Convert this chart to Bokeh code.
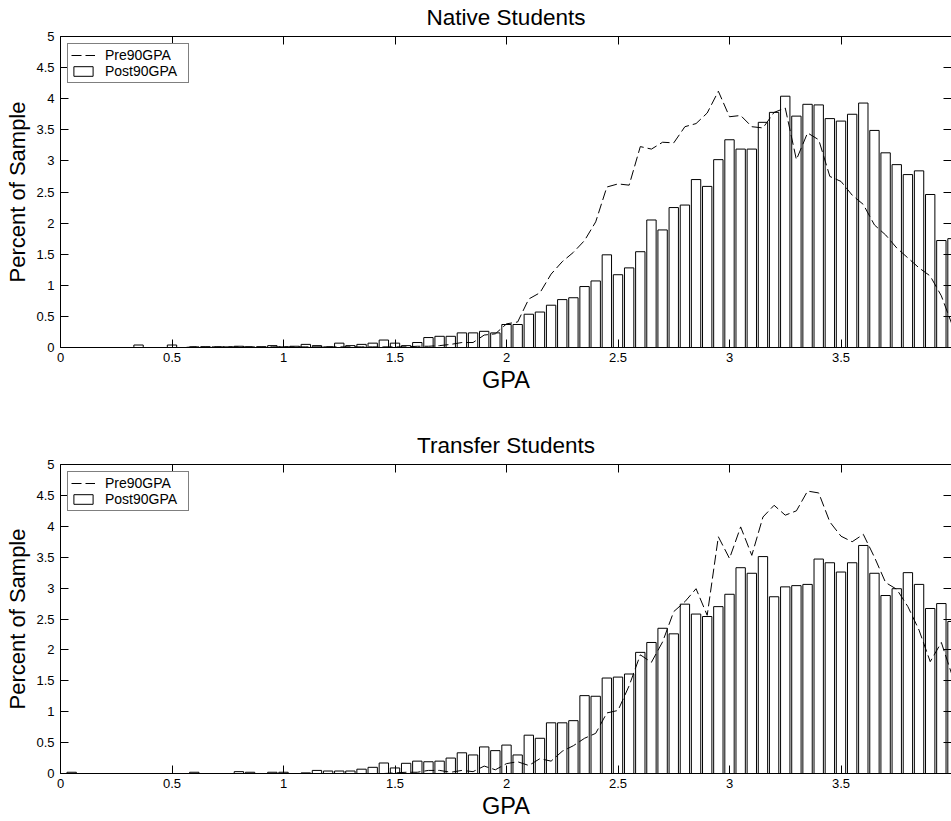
from bokeh.plotting import figure
from bokeh.models import (ColumnDataSource, LinearAxis, FixedTicker, Range1d,
                          Legend, LegendItem, CustomLabelingPolicy)
from bokeh.layouts import column
from bokeh.embed import file_html
from bokeh.resources import INLINE

# GPA bin centres
gpa = [0.00, 0.05, 0.10, 0.15, 0.20, 0.25, 0.30, 0.35, 0.40, 0.45,
       0.50, 0.55, 0.60, 0.65, 0.70, 0.75, 0.80, 0.85, 0.90, 0.95,
       1.00, 1.05, 1.10, 1.15, 1.20, 1.25, 1.30, 1.35, 1.40, 1.45,
       1.50, 1.55, 1.60, 1.65, 1.70, 1.75, 1.80, 1.85, 1.90, 1.95,
       2.00, 2.05, 2.10, 2.15, 2.20, 2.25, 2.30, 2.35, 2.40, 2.45,
       2.50, 2.55, 2.60, 2.65, 2.70, 2.75, 2.80, 2.85, 2.90, 2.95,
       3.00, 3.05, 3.10, 3.15, 3.20, 3.25, 3.30, 3.35, 3.40, 3.45,
       3.50, 3.55, 3.60, 3.65, 3.70, 3.75, 3.80, 3.85, 3.90, 3.95,
       4.00]

native_post = [0, 0, 0, 0, 0, 0, 0, 0.04, 0, 0,
               0.04, 0, 0.01, 0.01, 0.01, 0.01, 0.02, 0.01, 0.01, 0.03,
               0.01, 0.02, 0.05, 0.03, 0.01, 0.07, 0.03, 0.05, 0.07, 0.12,
               0.07, 0.03, 0.08, 0.16, 0.18, 0.18, 0.235, 0.235, 0.26, 0.235,
               0.37, 0.37, 0.535, 0.57, 0.68, 0.77, 0.80, 0.98, 1.07, 1.49,
               1.17, 1.28, 1.54, 2.05, 1.89, 2.25, 2.29, 2.70, 2.59, 3.02,
               3.34, 3.19, 3.19, 3.62, 3.78, 4.04, 3.72, 3.91, 3.90, 3.68,
               3.64, 3.75, 3.93, 3.49, 3.13, 2.94, 2.78, 2.84, 2.46, 1.72,
               1.75]

native_pre = [0, 0, 0, 0, 0, 0, 0, 0, 0, 0,
              0, 0, 0.01, 0.01, 0.01, 0.01, 0.01, 0.01, 0.01, 0.01,
              0.01, 0.01, 0.01, 0.01, 0.01, 0.01, 0.01, 0.01, 0.01, 0.01,
              0.01, 0.01, 0.02, 0.02, 0.03, 0.05, 0.08, 0.08, 0.20, 0.22,
              0.38, 0.41, 0.78, 0.88, 1.18, 1.38, 1.53, 1.72, 2.02, 2.58,
              2.63, 2.61, 3.23, 3.19, 3.30, 3.29, 3.55, 3.60, 3.77, 4.12,
              3.71, 3.73, 3.55, 3.53, 3.78, 3.85, 3.02, 3.45, 3.34, 2.75,
              2.67, 2.45, 2.30, 1.97, 1.81, 1.60, 1.44, 1.28, 1.15, 0.83,
              0.35]

transfer_post = [0, 0.02, 0, 0, 0, 0, 0, 0, 0, 0,
                 0, 0, 0.02, 0, 0, 0, 0.03, 0.02, 0, 0.02,
                 0.02, 0, 0.01, 0.05, 0.04, 0.04, 0.04, 0.07, 0.10, 0.17,
                 0.09, 0.165, 0.20, 0.19, 0.20, 0.25, 0.335, 0.30, 0.43, 0.37,
                 0.46, 0.30, 0.62, 0.57, 0.82, 0.82, 0.855, 1.26, 1.25, 1.545,
                 1.56, 1.61, 1.96, 2.12, 2.35, 2.26, 2.74, 2.58, 2.54, 2.70,
                 2.90, 3.33, 3.24, 3.51, 2.86, 3.02, 3.04, 3.06, 3.47, 3.41,
                 3.26, 3.41, 3.69, 3.24, 2.88, 2.99, 3.25, 3.06, 2.67, 2.75,
                 2.46]

transfer_pre = [0, 0, 0, 0, 0, 0, 0, 0, 0, 0,
                0, 0, 0, 0, 0, 0, 0, 0, 0, 0,
                0, 0, 0, 0, 0, 0, 0, 0, 0, 0,
                0.01, 0.02, 0.02, 0.05, 0.05, 0.02, 0.05, 0.03, 0.12, 0.06,
                0.16, 0.19, 0.13, 0.24, 0.20, 0.36, 0.45, 0.57, 0.65, 0.98,
                1.02, 1.42, 1.92, 1.80, 2.13, 2.62, 2.78, 2.99, 2.56, 3.83,
                3.48, 3.99, 3.53, 4.15, 4.34, 4.18, 4.25, 4.57, 4.54, 4.07,
                3.84, 3.75, 3.87, 3.50, 3.09, 2.98, 2.70, 2.32, 1.81, 2.12,
                1.57]

x_ticks = [0, 0.5, 1, 1.5, 2, 2.5, 3, 3.5, 4]
x_tick_labels = ["0", "0.5", "1", "1.5", "2", "2.5", "3", "3.5", "4"]
y_ticks = [0, 0.5, 1, 1.5, 2, 2.5, 3, 3.5, 4, 4.5, 5]
y_tick_labels = ["0", "0.5", "1", "1.5", "2", "2.5", "3", "3.5", "4", "4.5", "5"]

titles = ["Native Students", "Transfer Students"]
series_names = ["Pre90GPA", "Post90GPA"]

FONT = "Liberation Sans"


def style_axis(ax, ticks, labels, show_labels=True):
    ax.ticker = FixedTicker(ticks=ticks)
    ax.major_tick_in = 8
    ax.major_tick_out = 0
    ax.minor_tick_in = 0
    ax.minor_tick_out = 0
    ax.major_tick_line_color = "black"
    ax.axis_line_color = "black"
    ax.major_label_text_font = FONT
    ax.major_label_text_color = "black"
    if show_labels:
        ax.major_label_overrides = {t: l for t, l in zip(ticks, labels)}
        ax.major_label_text_font_size = "13px"
    else:
        # tick marks only: no label is drawn on this side
        ax.major_label_policy = CustomLabelingPolicy(
            code="for (const i of indices) { indices.unset(i) } return indices")
        ax.major_label_text_font_size = "0px"
        ax.major_label_standoff = 0
    ax.axis_label_text_font = FONT
    ax.axis_label_text_font_style = "normal"
    ax.axis_label_text_color = "black"


def make_panel(title, post, pre, height, top_border, bottom_border,
               title_standoff, title_valign, title_line_height):
    src = ColumnDataSource(data=dict(gpa=gpa, post=post, pre=pre))
    p = figure(width=951, height=height, x_range=Range1d(0, 3.9955),
               y_range=Range1d(0, 5), output_backend="svg",
               toolbar_location=None, title=title,
               min_border_left=60, min_border_right=0,
               min_border_top=top_border, min_border_bottom=bottom_border)
    p.outline_line_color = None
    p.grid.visible = False
    p.background_fill_color = "white"
    p.border_fill_color = "white"

    p.title.text_font = FONT
    p.title.text_font_size = "22.5px"
    p.title.text_font_style = "normal"
    p.title.text_color = "black"
    p.title.align = "center"
    p.title.standoff = title_standoff
    p.title.vertical_align = title_valign
    p.title.text_line_height = title_line_height

    bars = p.vbar(x="gpa", top="post", bottom=0, width=0.042, source=src,
                  fill_color="white", line_color="black", line_width=1)
    ln = p.line(x="gpa", y="pre", source=src, line_color="black",
                line_width=1, line_dash="10 4")

    style_axis(p.xaxis[0], x_ticks, x_tick_labels)
    p.xaxis[0].axis_label = "GPA"
    p.xaxis[0].axis_label_text_font_size = "23.5px"
    p.xaxis[0].major_label_standoff = 5
    p.xaxis[0].axis_label_standoff = 2
    style_axis(p.yaxis[0], y_ticks, y_tick_labels)
    p.yaxis[0].axis_label = "Percent of Sample"
    p.yaxis[0].axis_label_text_font_size = "22px"
    p.yaxis[0].major_label_standoff = 6
    p.yaxis[0].axis_label_standoff = 3

    top_ax = LinearAxis()
    style_axis(top_ax, x_ticks, x_tick_labels, show_labels=False)
    p.add_layout(top_ax, "above")
    right_ax = LinearAxis()
    style_axis(right_ax, y_ticks, y_tick_labels, show_labels=False)
    right_ax.axis_line_color = None
    p.add_layout(right_ax, "right")

    legend = Legend(items=[LegendItem(label=series_names[0], renderers=[ln]),
                           LegendItem(label=series_names[1], renderers=[bars])],
                    location="top_left")
    legend.margin = 7
    legend.padding = 3
    legend.spacing = 0
    legend.label_text_font = FONT
    legend.label_text_font_size = "14px"
    legend.label_text_color = "black"
    legend.label_standoff = 10
    legend.label_width = 80
    legend.glyph_width = 24
    legend.glyph_height = 12
    legend.label_height = 14
    legend.border_line_color = "black"
    legend.border_line_width = 1
    legend.background_fill_color = "white"
    legend.background_fill_alpha = 1
    p.add_layout(legend)
    return p


p1 = make_panel(titles[0], native_post, native_pre, 410, 36, 63, 9, "top", 0.7)
p2 = make_panel(titles[1], transfer_post, transfer_pre, 411, 54, 47, 14, "bottom", 1.0)

layout = column(p1, p2)
open("out.html", "w").write(file_html(layout, INLINE))
